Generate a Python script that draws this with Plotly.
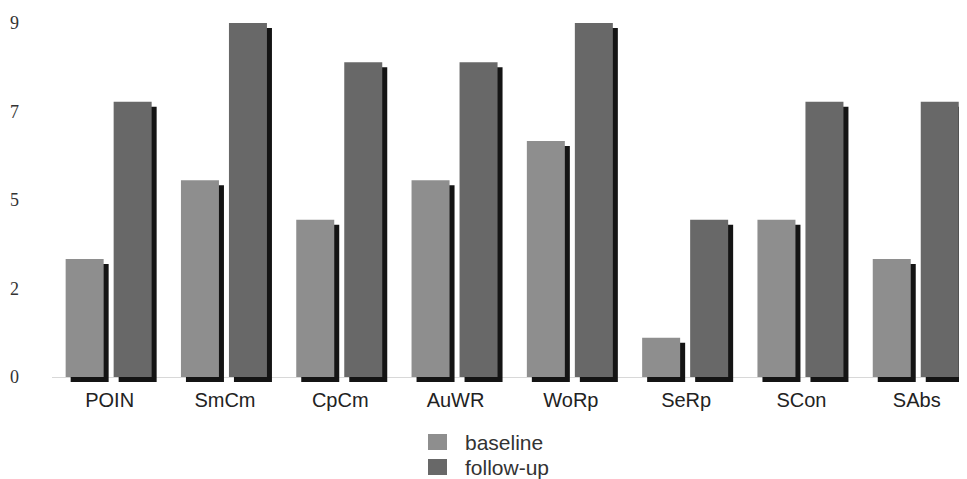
import plotly.graph_objects as go

categories = ["POIN", "SmCm", "CpCm", "AuWR", "WoRp", "SeRp", "SCon", "SAbs"]
baseline = [3, 5, 4, 5, 6, 1, 4, 3]
follow_up = [7, 9, 8, 8, 9, 4, 7, 7]
series_names = ["baseline", "follow-up"]
tick_vals = [0, 2.25, 4.5, 6.75, 9]
tick_text = ["0", "2", "5", "7", "9"]

# the page shows the figure with an 8px body margin, so work in figure pixels
W, H = 967, 479
L, R, T, B = 44, 0, 2, 103
cat_px = 115.3
plot_w = W - L - R
plot_h = H - T - B
x_range = [-0.5, -0.5 + plot_w / cat_px]
y_range = [-0.178, 9.33]
px_x = plot_w / (x_range[1] - x_range[0])
px_y = plot_h / (y_range[1] - y_range[0])

bar_w = 38 / px_x
off_base = -44 / px_x
off_fu = 4 / px_x
sdx = 5 / px_x
sdy = 5 / px_y

col_base = "#8e8e8e"
col_fu = "#686868"
col_shadow = "#141414"
colors = [col_base, col_fu]

fig = go.Figure()
# drop shadows behind the bars
for vals, off in [(baseline, off_base), (follow_up, off_fu)]:
    fig.add_trace(go.Bar(
        x=categories, y=vals, base=[-sdy] * len(vals),
        offset=off + sdx, width=bar_w,
        marker=dict(color=col_shadow, line=dict(width=0)),
        showlegend=False, hoverinfo="skip"))
for vals, off, name, c in [(baseline, off_base, series_names[0], col_base),
                           (follow_up, off_fu, series_names[1], col_fu)]:
    fig.add_trace(go.Bar(
        x=categories, y=vals, name=name, offset=off, width=bar_w,
        marker=dict(color=c, line=dict(width=0)), showlegend=False))

# legend drawn as squares + labels below the plot
def px2paper_x(p):
    return (p - L) / plot_w

def px2paper_y(p):
    return (H - B - p) / plot_h

shapes = []
annotations = []
for i, (name, c) in enumerate(zip(series_names, colors)):
    top = 426 + i * 25
    shapes.append(dict(type="rect", xref="paper", yref="paper",
                       x0=px2paper_x(420), x1=px2paper_x(439),
                       y0=px2paper_y(top + 16), y1=px2paper_y(top),
                       fillcolor=c, line=dict(width=0)))
    annotations.append(dict(xref="paper", yref="paper",
                            x=px2paper_x(455), y=px2paper_y(top + 8),
                            xanchor="left", yanchor="middle", showarrow=False,
                            text=name,
                            font=dict(family="Liberation Sans", size=21,
                                      color="#333333")))

fig.update_layout(
    width=W, height=H,
    margin=dict(l=L, r=R, t=T, b=B, autoexpand=False),
    paper_bgcolor="white", plot_bgcolor="white",
    barmode="overlay",
    showlegend=False,
    shapes=shapes,
    annotations=annotations,
    xaxis=dict(type="category", range=x_range, showgrid=False, showline=False,
               ticks="", zeroline=False, automargin=False,
               ticklabelstandoff=2,
               tickfont=dict(family="Liberation Sans", size=20, color="#222222")),
    yaxis=dict(range=y_range, tickvals=tick_vals, ticktext=tick_text,
               showgrid=False, showline=False, ticks="", automargin=False,
               zeroline=True, zerolinecolor="#d8d8d8", zerolinewidth=1,
               tickfont=dict(family="Liberation Serif", size=18, color="#333333"),
               ticklabelstandoff=32),
)

fig.write_html("out.html")
